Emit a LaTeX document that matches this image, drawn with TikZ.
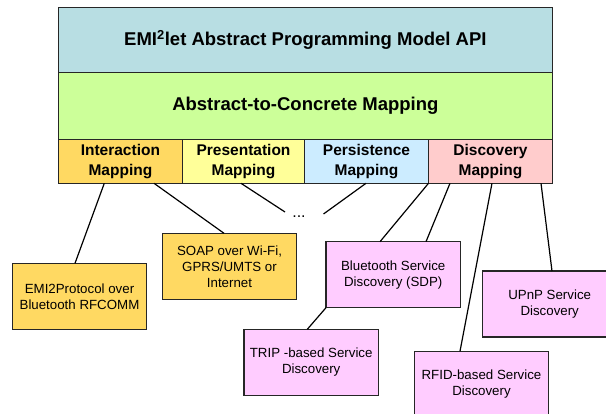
\documentclass[tikz,border=0pt]{standalone}
\usepackage{fontspec}
\setmainfont{Liberation Sans}
\definecolor{apiblue}{RGB}{184,222,227}
\definecolor{mapgreen}{RGB}{204,255,153}
\definecolor{intgold}{RGB}{255,217,98}
\definecolor{presyellow}{RGB}{255,255,153}
\definecolor{persblue}{RGB}{204,236,255}
\definecolor{discpink}{RGB}{255,204,204}
\definecolor{svcpink}{RGB}{255,204,255}
\tikzset{
    layerbox/.style={draw=black!85, line width=1.2pt, inner sep=0pt, outer sep=0pt, anchor=north west,
        minimum width=494.2pt, font=\fontsize{18.5}{22}\selectfont\bfseries},
    mapbox/.style={draw=black!85, line width=1.2pt, inner sep=0pt, outer sep=0pt, anchor=north west,
        minimum height=44pt, align=center, font=\fontsize{15.5}{20}\selectfont\bfseries},
    techbox/.style={draw=black!85, line width=1.2pt, inner sep=0pt, outer sep=0pt, anchor=north west,
        minimum width=134.4pt, minimum height=66pt, align=center, font=\fontsize{13.3}{16}\selectfont},
    link/.style={line width=1.2pt}
}

\begin{document}
\begin{tikzpicture}[x=1pt, y=-1pt]
    \useasboundingbox (0,0) rectangle (606,414);
    % layers
    \node[layerbox, fill=apiblue, minimum height=65.4pt] (api) at (58.3,7.3) {EMI\textsuperscript{2}let Abstract Programming Model API};
    \node[layerbox, fill=mapgreen, minimum height=66.6pt] (concrete) at (58.3,72.7) {Abstract-to-Concrete Mapping};
    \node[mapbox, fill=intgold, minimum width=124.2pt] (inter) at (58.3,139.3) {Interaction\\Mapping};
    \node[mapbox, fill=presyellow, minimum width=122pt] (pres) at (182.5,139.3) {Presentation\\Mapping};
    \node[mapbox, fill=persblue, minimum width=124pt] (pers) at (304.5,139.3) {Persistence\\Mapping};
    \node[mapbox, fill=discpink, minimum width=124pt] (disc) at (428.5,139.3) {Discovery\\Mapping};
    % concrete technologies
    \node[techbox, fill=intgold] (emi) at (12.3,263.3) {EMI2Protocol over\\Bluetooth RFCOMM};
    \node[techbox, fill=intgold] (soap) at (162.3,233.3) {SOAP over Wi-Fi,\\GPRS/UMTS or\\Internet};
    \node[techbox, fill=svcpink] (sdp) at (326,241.7) {Bluetooth Service\\Discovery (SDP)};
    \node[techbox, fill=svcpink] (upnp) at (482.5,271) {UPnP Service\\Discovery};
    \node[techbox, fill=svcpink] (trip) at (244,329.3) {TRIP -based Service\\Discovery};
    \node[techbox, fill=svcpink] (rfid) at (414.3,351.3) {RFID-based Service\\Discovery};
    \node[font=\fontsize{16}{18}\selectfont] (more) at (299,217) {...};
    \coordinate (moreL) at (285,212);
    \coordinate (moreR) at (323.5,214);
    % links
    \draw[link] ([xshift=46]inter.south west) -- ([xshift=62.7]emi.north west);
    \draw[link] ([xshift=95.7]inter.south west) -- ([xshift=61.7]soap.north west);
    \draw[link] ([xshift=58.5]pres.south west) -- (moreL);
    \draw[link] (moreR) -- ([xshift=61.5]pers.south west);
    \draw[link] (disc.south west) -- ([xshift=54]sdp.north west);
    \draw[link] ([xshift=21.5]disc.south west) -- ([xshift=100]sdp.north west);
    \draw[link] ([xshift=63.5]disc.south west) -- ([xshift=45.7]rfid.north west);
    \draw[link] ([xshift=112.5]disc.south west) -- ([xshift=69.5]upnp.north west);
    \draw[link] (sdp.south west) -- ([xshift=63.3]trip.north west);
\end{tikzpicture}
\end{document}
